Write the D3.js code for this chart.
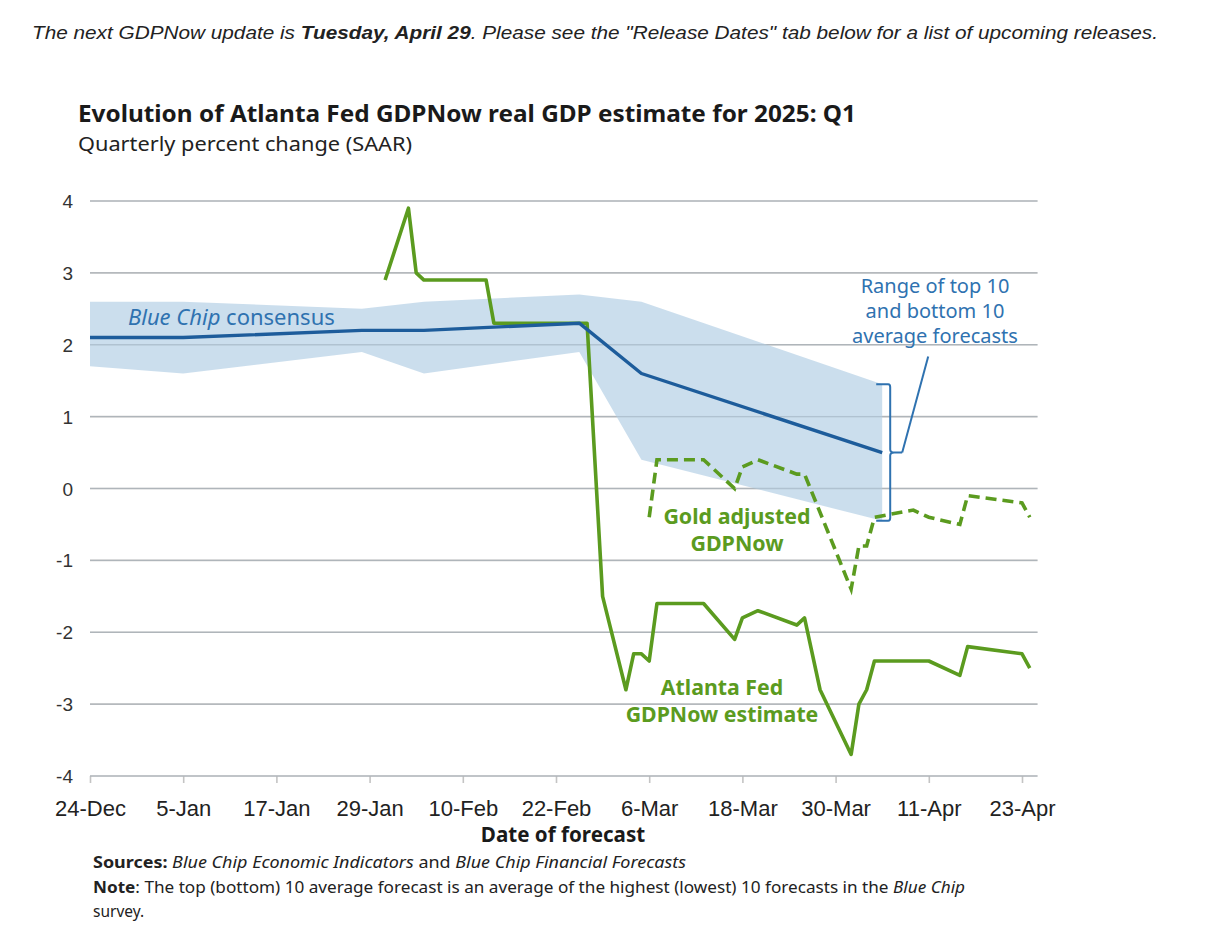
<!DOCTYPE html>
<html>
<head>
<meta charset="utf-8">
<script src="https://cdn.jsdelivr.net/npm/d3@7"></script>
<style>
  body { margin: 0; background: #fff; }
  svg { display: block; }
</style>
</head>
<body>
<div id="chart"></div>
<script>
// Chart data
var tickLabels = ["24-Dec", "5-Jan", "17-Jan", "29-Jan", "10-Feb", "22-Feb", "6-Mar", "18-Mar", "30-Mar", "11-Apr", "23-Apr"];
var yTicks = [4, 3, 2, 1, 0, -1, -2, -3, -4];

// Blue Chip consensus and its top 10 / bottom 10 range
var bcDates = ["2024-12-24", "2025-01-05", "2025-01-28", "2025-02-05", "2025-02-25", "2025-03-05", "2025-04-05"];
var bcConsensus = [2.1, 2.1, 2.2, 2.2, 2.3, 1.6, 0.5];
var bcTop = [2.6, 2.6, 2.5, 2.6, 2.7, 2.6, 1.45];
var bcBottom = [1.7, 1.6, 1.9, 1.6, 1.9, 0.4, -0.45];

// Atlanta Fed GDPNow estimate
var gdpDates = ["2025-01-31", "2025-02-03", "2025-02-04", "2025-02-05", "2025-02-13", "2025-02-14", "2025-02-26",
  "2025-02-28", "2025-03-03", "2025-03-04", "2025-03-05", "2025-03-06", "2025-03-07", "2025-03-13", "2025-03-17",
  "2025-03-18", "2025-03-20", "2025-03-25", "2025-03-26", "2025-03-28", "2025-04-01", "2025-04-02", "2025-04-03",
  "2025-04-04", "2025-04-09", "2025-04-11", "2025-04-15", "2025-04-16", "2025-04-23", "2025-04-24"];
var gdpNow = [2.9, 3.9, 3.0, 2.9, 2.9, 2.3, 2.3,
  -1.5, -2.8, -2.3, -2.3, -2.4, -1.6, -1.6, -2.1,
  -1.8, -1.7, -1.9, -1.8, -2.8, -3.7, -3.0, -2.8,
  -2.4, -2.4, -2.4, -2.6, -2.2, -2.3, -2.5];

// Gold adjusted GDPNow
var goldDates = ["2025-03-06", "2025-03-07", "2025-03-13", "2025-03-17", "2025-03-18", "2025-03-20", "2025-03-25",
  "2025-03-26", "2025-04-01", "2025-04-02", "2025-04-03", "2025-04-04", "2025-04-09", "2025-04-11", "2025-04-15",
  "2025-04-16", "2025-04-23", "2025-04-24"];
var goldNow = [-0.4, 0.4, 0.4, 0.0, 0.3, 0.4, 0.2,
  0.2, -1.4, -0.8, -0.8, -0.4, -0.3, -0.4, -0.5,
  -0.1, -0.2, -0.4];

var svgWidth = 1210;
var svgHeight = 940;

var green = "#5b9b1f";
var darkBlue = "#1d5c9b";
var labelBlue = "#2f72b0";
var bandFill = "#c5daeb";
var gridColor = "#c4c4c4";

var parseDate = d3.utcParse("%Y-%m-%d");

var svg = d3.select("#chart")
  .append("svg")
  .attr("width", svgWidth)
  .attr("height", svgHeight);

// header line above the chart
var header = svg.append("text")
  .attr("x", 32)
  .attr("y", 39)
  .attr("font-family", "Liberation Sans, Arial, sans-serif")
  .attr("font-style", "italic")
  .attr("font-size", 19)
  .attr("fill", "#222")
  .attr("textLength", 1126)
  .attr("lengthAdjust", "spacingAndGlyphs");
header.append("tspan").text("The next GDPNow update is ");
header.append("tspan").attr("font-weight", "bold").text("Tuesday, April 29");
header.append("tspan").text(". Please see the \"Release Dates\" tab below for a list of upcoming releases.");

// title and subtitle
svg.append("text")
  .attr("x", 78)
  .attr("y", 122)
  .attr("font-family", "Noto Sans, sans-serif")
  .attr("font-weight", "bold")
  .attr("font-size", 23)
  .attr("fill", "#1a1a1a")
  .attr("textLength", 778)
  .attr("lengthAdjust", "spacingAndGlyphs")
  .text("Evolution of Atlanta Fed GDPNow real GDP estimate for 2025: Q1");

svg.append("text")
  .attr("x", 78)
  .attr("y", 151)
  .attr("font-family", "Noto Sans, sans-serif")
  .attr("font-size", 20)
  .attr("fill", "#222")
  .attr("textLength", 334)
  .attr("lengthAdjust", "spacingAndGlyphs")
  .text("Quarterly percent change (SAAR)");

// scales
var xStart = parseDate("2024-12-24");
var xEnd = parseDate("2025-04-23");
var xScale = d3.scaleUtc()
  .domain([xStart, xEnd])
  .range([90, 1022]);

var yScale = d3.scaleLinear()
  .domain([-4, 4])
  .range([776, 201]);

var gridRight = xScale(d3.utcDay.offset(xEnd, 2));

// gridlines
svg.append("g")
  .selectAll("line")
  .data(yTicks)
  .enter()
  .append("line")
  .attr("x1", xScale(xStart))
  .attr("x2", gridRight)
  .attr("y1", d => yScale(d))
  .attr("y2", d => yScale(d))
  .attr("stroke", gridColor)
  .attr("stroke-width", 1.6);

// y labels
svg.append("g")
  .selectAll("text")
  .data(yTicks)
  .enter()
  .append("text")
  .attr("x", 73)
  .attr("y", d => yScale(d) + 7)
  .attr("text-anchor", "end")
  .attr("font-family", "Liberation Sans, Arial, sans-serif")
  .attr("font-size", 19)
  .attr("fill", "#333")
  .text(d => d);

// x axis ticks every 12 days
var tickDates = tickLabels.map((t, i) => d3.utcDay.offset(xStart, i * 12));
var bottomAxis = d3.axisBottom(xScale)
  .tickValues(tickDates)
  .tickSize(7)
  .tickFormat((d, i) => tickLabels[i]);

var xAxis = svg.append("g")
  .attr("transform", `translate(0, ${yScale(-4)})`)
  .call(bottomAxis);
xAxis.select(".domain").remove();
xAxis.selectAll(".tick line")
  .attr("stroke", gridColor)
  .attr("stroke-width", 1.6);
xAxis.selectAll(".tick text")
  .attr("y", 24)
  .attr("font-family", "Liberation Sans, Arial, sans-serif")
  .attr("font-size", 22)
  .attr("fill", "#222");

svg.append("text")
  .attr("x", 563)
  .attr("y", 842)
  .attr("text-anchor", "middle")
  .attr("font-family", "Noto Sans, sans-serif")
  .attr("font-weight", "bold")
  .attr("font-size", 20.6)
  .attr("fill", "#1a1a1a")
  .text("Date of forecast");

// Blue Chip range band
var bcData = bcDates.map((d, i) => ({
  date: parseDate(d),
  mid: bcConsensus[i],
  top: bcTop[i],
  bottom: bcBottom[i]
}));

var area = d3.area()
  .x(d => xScale(d.date))
  .y0(d => yScale(d.bottom))
  .y1(d => yScale(d.top));

svg.append("path")
  .datum(bcData)
  .attr("d", area)
  .attr("fill", bandFill)
  .attr("fill-opacity", 0.9);

// redraw gridlines faintly over the band, like the original
svg.append("g")
  .selectAll("line")
  .data(yTicks)
  .enter()
  .append("line")
  .attr("x1", xScale(xStart))
  .attr("x2", gridRight)
  .attr("y1", d => yScale(d))
  .attr("y2", d => yScale(d))
  .attr("stroke", "#8a9aa8")
  .attr("stroke-opacity", 0.35)
  .attr("stroke-width", 1.4);

var line = d3.line()
  .x(d => xScale(d.date))
  .y(d => yScale(d.value));

// GDPNow line
var gdpData = gdpDates.map((d, i) => ({ date: parseDate(d), value: gdpNow[i] }));
svg.append("path")
  .datum(gdpData)
  .attr("d", line)
  .attr("fill", "none")
  .attr("stroke", green)
  .attr("stroke-width", 3.6)
  .attr("stroke-linejoin", "round");

// Blue Chip consensus line
svg.append("path")
  .datum(bcData.map(d => ({ date: d.date, value: d.mid })))
  .attr("d", line)
  .attr("fill", "none")
  .attr("stroke", darkBlue)
  .attr("stroke-width", 3.4)
  .attr("stroke-linejoin", "round");

// Gold adjusted GDPNow line
var goldData = goldDates.map((d, i) => ({ date: parseDate(d), value: goldNow[i] }));
svg.append("path")
  .datum(goldData)
  .attr("d", line)
  .attr("fill", "none")
  .attr("stroke", green)
  .attr("stroke-width", 3.6)
  .attr("stroke-dasharray", "11,6");

// bracket showing the range at the last Blue Chip date
var last = bcData[bcData.length - 1];
var bx = xScale(last.date) + 8;
var bTop = yScale(last.top);
var bBot = yScale(last.bottom);
var bMid = yScale(last.mid);
svg.append("path")
  .attr("d", `M${bx - 14},${bTop} L${bx - 2},${bTop} Q${bx},${bTop} ${bx},${bTop + 3}
    L${bx},${bMid - 3} Q${bx},${bMid} ${bx + 4},${bMid} L${bx + 12},${bMid}
    M${bx + 4},${bMid} Q${bx},${bMid} ${bx},${bMid + 3}
    L${bx},${bBot - 3} Q${bx},${bBot} ${bx - 2},${bBot} L${bx - 14},${bBot}`)
  .attr("fill", "none")
  .attr("stroke", labelBlue)
  .attr("stroke-width", 2);

svg.append("line")
  .attr("x1", bx + 12)
  .attr("y1", bMid)
  .attr("x2", bx + 38)
  .attr("y2", bMid - 96)
  .attr("stroke", labelBlue)
  .attr("stroke-width", 2);

// series labels
var rangeLabel = ["Range of top 10", "and bottom 10", "average forecasts"];
svg.append("g")
  .selectAll("text")
  .data(rangeLabel)
  .enter()
  .append("text")
  .attr("x", 935)
  .attr("y", (d, i) => 293 + i * 25)
  .attr("text-anchor", "middle")
  .attr("font-family", "Noto Sans, sans-serif")
  .attr("font-size", 20)
  .attr("fill", labelBlue)
  .text(d => d);

var bcLabel = svg.append("text")
  .attr("x", 128)
  .attr("y", 325)
  .attr("font-family", "Noto Sans, sans-serif")
  .attr("font-size", 22)
  .attr("fill", labelBlue);
bcLabel.append("tspan").attr("font-style", "italic").text("Blue Chip");
bcLabel.append("tspan").text(" consensus");

var goldLabel = ["Gold adjusted", "GDPNow"];
svg.append("g")
  .selectAll("text")
  .data(goldLabel)
  .enter()
  .append("text")
  .attr("x", 737)
  .attr("y", (d, i) => 524 + i * 27)
  .attr("text-anchor", "middle")
  .attr("font-family", "Noto Sans, sans-serif")
  .attr("font-weight", "bold")
  .attr("font-size", 21.4)
  .attr("fill", green)
  .text(d => d);

var gdpLabel = ["Atlanta Fed", "GDPNow estimate"];
svg.append("g")
  .selectAll("text")
  .data(gdpLabel)
  .enter()
  .append("text")
  .attr("x", 722)
  .attr("y", (d, i) => 695 + i * 27)
  .attr("text-anchor", "middle")
  .attr("font-family", "Noto Sans, sans-serif")
  .attr("font-weight", "bold")
  .attr("font-size", 21.3)
  .attr("fill", green)
  .text(d => d);

// sources and note
var src = svg.append("text")
  .attr("x", 93)
  .attr("y", 868)
  .attr("font-family", "Noto Sans, sans-serif")
  .attr("font-size", 15.5)
  .attr("fill", "#222")
  .attr("textLength", 593)
  .attr("lengthAdjust", "spacingAndGlyphs");
src.append("tspan").attr("font-weight", "bold").text("Sources: ");
src.append("tspan").attr("font-style", "italic").text("Blue Chip Economic Indicators");
src.append("tspan").text(" and ");
src.append("tspan").attr("font-style", "italic").text("Blue Chip Financial Forecasts");

var note = svg.append("text")
  .attr("x", 93)
  .attr("y", 893)
  .attr("font-family", "Noto Sans, sans-serif")
  .attr("font-size", 15.5)
  .attr("fill", "#222")
  .attr("textLength", 872)
  .attr("lengthAdjust", "spacingAndGlyphs");
note.append("tspan").attr("font-weight", "bold").text("Note");
note.append("tspan").text(": The top (bottom) 10 average forecast is an average of the highest (lowest) 10 forecasts in the ");
note.append("tspan").attr("font-style", "italic").text("Blue Chip");

svg.append("text")
  .attr("x", 93)
  .attr("y", 917)
  .attr("font-family", "Noto Sans, sans-serif")
  .attr("font-size", 15.5)
  .attr("fill", "#222")
  .text("survey.");
</script>
</body>
</html>
